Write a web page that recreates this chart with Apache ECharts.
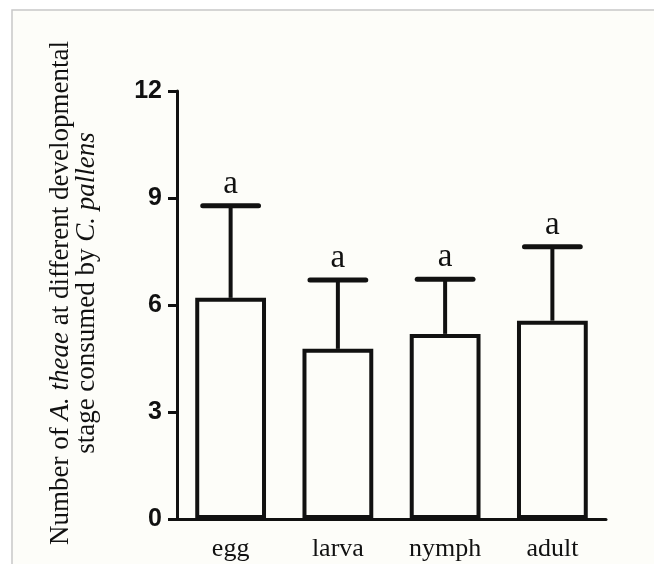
<!DOCTYPE html>
<html>
<head>
<meta charset="utf-8">
<script src="https://cdn.jsdelivr.net/npm/echarts@6/dist/echarts.min.js"></script>
<style>
html,body{margin:0;padding:0;background:#ffffff;}
#chart{width:654px;height:564px;}
</style>
</head>
<body>
<div id="chart"></div>
<script>
var categories = ['egg', 'larva', 'nymph', 'adult'];
var means = [6.2, 4.77, 5.19, 5.56];
var errors = [2.58, 1.93, 1.53, 2.07];
var letters = ['a', 'a', 'a', 'a'];
var yTicks = [0, 3, 6, 9, 12];

var chart = echarts.init(document.getElementById('chart'), null, {renderer: 'canvas'});

var errData = categories.map(function (c, i) { return [i, means[i], means[i] + errors[i], letters[i]]; });

var option = {
  backgroundColor: '#ffffff',
  animation: false,
  graphic: [
    {type: 'rect', z: -10, shape: {x: 12, y: 10, width: 650, height: 560}, style: {fill: '#fdfdf9', stroke: '#c8c8c8', lineWidth: 1.5}},
    {
      type: 'text', z: 10,
      x: 74, y: 293, rotation: Math.PI / 2,
      style: {
        text: 'Number of {i|A. theae} at different developmental\nstage consumed by {i|C. pallens}',
        fontFamily: 'Liberation Serif', fontSize: 27, fill: '#111',
        align: 'center', verticalAlign: 'middle', lineHeight: 26,
        rich: {i: {fontFamily: 'Liberation Serif', fontStyle: 'italic', fontSize: 27, fill: '#111'}}
      }
    }
  ],
  grid: {left: 177, right: 48, top: 91, bottom: 45},
  xAxis: {
    type: 'category',
    data: categories,
    axisLine: {lineStyle: {color: '#111', width: 3}},
    axisTick: {alignWithLabel: true, length: 8, lineStyle: {color: '#111', width: 3}},
    axisLabel: {fontFamily: 'Liberation Serif', fontSize: 26, color: '#111', margin: 17}
  },
  yAxis: {
    type: 'value',
    min: yTicks[0], max: yTicks[yTicks.length - 1], interval: 3,
    splitLine: {show: false},
    axisLine: {show: true, lineStyle: {color: '#111', width: 3}},
    axisTick: {show: true, length: 9, lineStyle: {color: '#111', width: 3}},
    axisLabel: {fontFamily: 'Liberation Sans', fontWeight: 'bold', fontSize: 25, color: '#111', margin: 15}
  },
  series: [
    {
      type: 'bar',
      data: means,
      barWidth: '66%',
      itemStyle: {color: '#fdfdf9', borderColor: '#111', borderWidth: 4},
      z: 2
    },
    {
      type: 'custom',
      z: 5,
      data: errData,
      renderItem: function (params, api) {
        var x = api.value(0);
        var p0 = api.coord([x, api.value(1)]);
        var p1 = api.coord([x, api.value(2)]);
        var band = api.size([1, 0])[0];
        var hw = band * 0.26;
        return {
          type: 'group',
          children: [
            {type: 'line', shape: {x1: p0[0], y1: p0[1], x2: p1[0], y2: p1[1]}, style: {stroke: '#111', lineWidth: 4}},
            {type: 'line', shape: {x1: p1[0] - hw, y1: p1[1], x2: p1[0] + hw, y2: p1[1]}, style: {stroke: '#111', lineWidth: 5, lineCap: 'round'}},
            {type: 'text', x: p1[0], y: p1[1] - 5, style: {text: api.value(3), fontFamily: 'Liberation Serif', fontSize: 33, fill: '#111', align: 'center', verticalAlign: 'bottom'}}
          ]
        };
      }
    }
  ]
};
chart.setOption(option);
</script>
</body>
</html>
